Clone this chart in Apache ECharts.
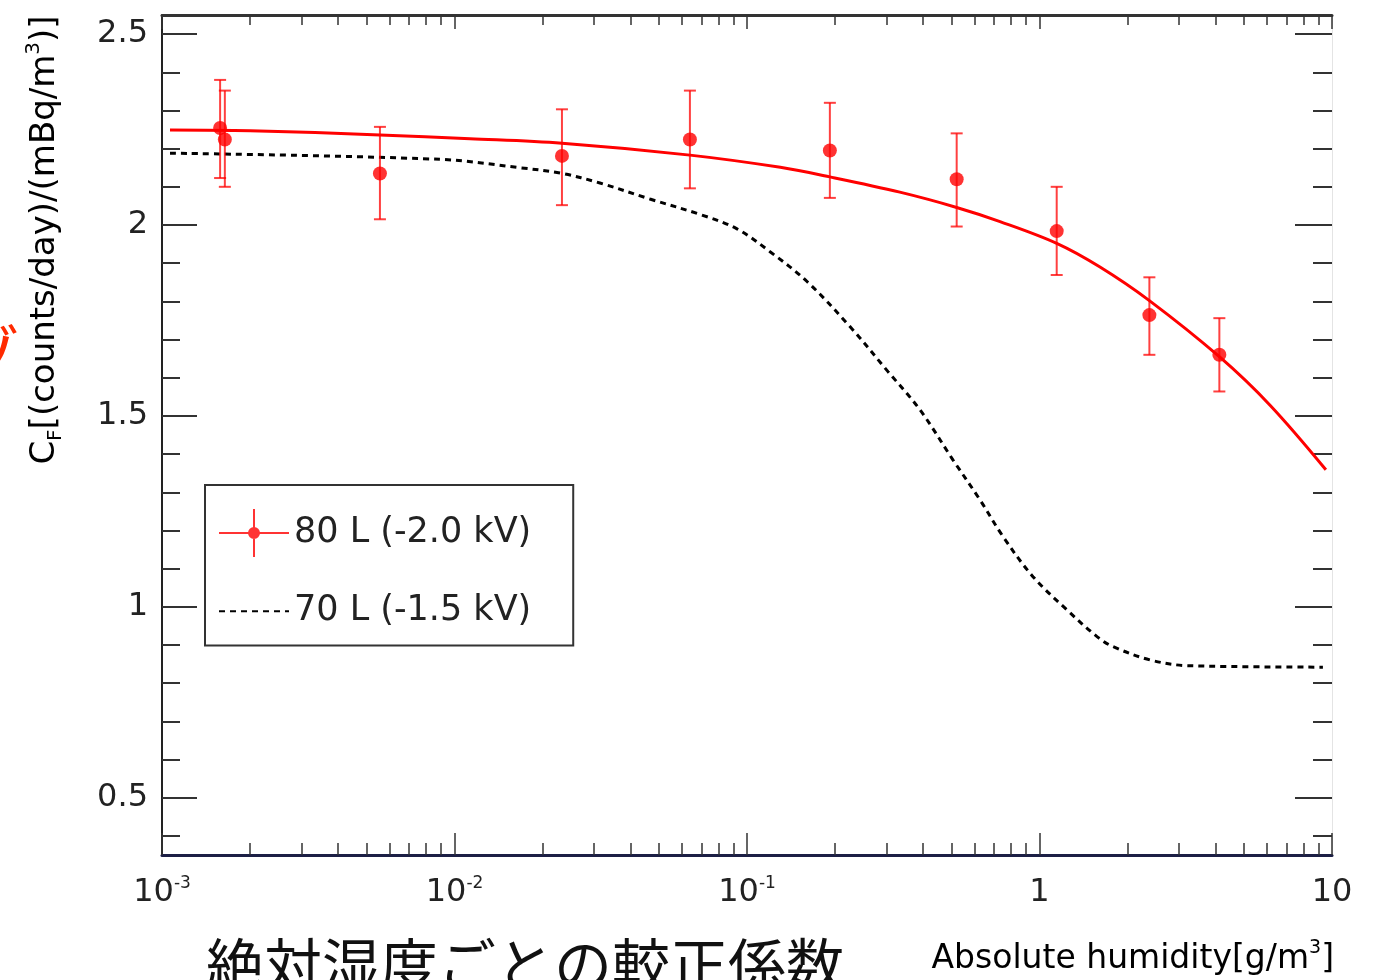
<!DOCTYPE html>
<html>
<head>
<meta charset="utf-8">
<script src="https://cdn.jsdelivr.net/npm/echarts@6/dist/echarts.min.js"></script>
<style>
html,body{margin:0;padding:0;background:#fff;}
#chart{width:1378px;height:980px;}
</style>
</head>
<body>
<div id="chart"></div>
<script>
// ---- data ----
const ptX    = [0.00158, 0.00164, 0.00556, 0.0233, 0.0638, 0.192, 0.521, 1.145, 2.375, 4.12];
const ptY    = [2.254, 2.224, 2.135, 2.181, 2.224, 2.195, 2.120, 1.984, 1.764, 1.660];
const ptLow  = [2.123, 2.100, 2.015, 2.052, 2.096, 2.071, 1.996, 1.869, 1.660, 1.564];
const ptHigh = [2.380, 2.352, 2.257, 2.303, 2.352, 2.320, 2.240, 2.100, 1.863, 1.756];

const fit80X = [0.001065, 0.0020, 0.00556, 0.0113, 0.0233, 0.0638, 0.130, 0.192, 0.333, 0.521, 0.733, 1.145, 1.61, 2.375, 4.12, 6.14, 9.53];
const fit80Y = [2.249, 2.247, 2.236, 2.226, 2.214, 2.183, 2.151, 2.126, 2.086, 2.046, 2.009, 1.952, 1.890, 1.802, 1.655, 1.528, 1.359];

const fit70X = [0.001065, 0.00892, 0.01675, 0.02333, 0.03141, 0.04656, 0.07015, 0.0924, 0.1199, 0.1604, 0.2249, 0.3034, 0.3902, 0.5058, 0.6261, 0.7505, 0.950, 1.241, 1.573, 1.782, 2.387, 3.193, 9.31];
const fit70Y = [2.188, 2.172, 2.150, 2.135, 2.110, 2.068, 2.026, 1.990, 1.930, 1.852, 1.734, 1.616, 1.516, 1.385, 1.280, 1.184, 1.079, 0.992, 0.922, 0.896, 0.861, 0.846, 0.842];

const xMajorTicks = [0.001, 0.01, 0.1, 1, 10];
const xMinorTicks = [0.002,0.003,0.004,0.005,0.006,0.007,0.008,0.009,
                     0.02,0.03,0.04,0.05,0.06,0.07,0.08,0.09,
                     0.2,0.3,0.4,0.5,0.6,0.7,0.8,0.9,
                     2,3,4,5,6,7,8,9];
const yMajorTicks = [0.5, 1, 1.5, 2, 2.5];
const yMinorTicks = [0.4,0.6,0.7,0.8,0.9,1.1,1.2,1.3,1.4,1.6,1.7,1.8,1.9,2.1,2.2,2.3,2.4];

const name80 = '80 L (-2.0 kV)';
const name70 = '70 L (-1.5 kV)';
const yTitle = '{n|C}{sub|F}{n|[(counts/day)/(mBq/m}{sup|3}{n|)]}';
const xTitle = '{n|Absolute humidity[g/m}{sup|3}{n|]}';
const jpTitle = '絶対湿度ごとの較正係数';
const jpFragment = 'ゾ';

// ---- chart ----
const FONT = 'DejaVu Sans';
const chart = echarts.init(document.getElementById('chart'));

const X_MIN = 0.001, X_MAX = 10, Y_MIN = 0.35, Y_MAX = 2.55;

function xAxisDef(pos, ticks, len, showLine, lineColor, lineWidth, labels) {
  return {
    type: 'log', logBase: 10, position: pos, min: X_MIN, max: X_MAX,
    axisLine: { show: showLine, lineStyle: { color: lineColor, width: lineWidth } },
    axisTick: { show: true, inside: true, length: len, customValues: ticks,
                lineStyle: { color: '#333', width: 1.5 } },
    axisLabel: labels ? {
      show: true, customValues: xMajorTicks, margin: 20,
      fontFamily: FONT, color: '#222',
      formatter: function (v) {
        const e = Math.round(Math.log10(v));
        if (e < 0) return '{b|10}{s|' + e + '}';
        return '{b|' + (e === 0 ? '1' : '10') + '}';
      },
      rich: {
        b: { fontSize: 32, lineHeight: 36, fontFamily: FONT, color: '#222' },
        s: { fontSize: 17, lineHeight: 17, verticalAlign: 'top', fontFamily: FONT, color: '#222' }
      }
    } : { show: false },
    splitLine: { show: false }, minorTick: { show: false }
  };
}
function yAxisDef(pos, ticks, len, showLine, lineColor, lineWidth, labels) {
  return {
    type: 'value', position: pos, min: Y_MIN, max: Y_MAX,
    axisLine: { show: showLine, lineStyle: { color: lineColor, width: lineWidth } },
    axisTick: { show: true, inside: true, length: len, customValues: ticks,
                lineStyle: { color: '#333', width: 2 } },
    axisLabel: labels ? { show: true, customValues: yMajorTicks, margin: 14,
      fontFamily: FONT, fontSize: 32, color: '#222' } : { show: false },
    splitLine: { show: false }
  };
}

const legendIcon = 'path://M0 23 L70 23 L70 25 L0 25 Z M34 0 L36 0 L36 48 L34 48 Z M29 24 A6 6 0 1 1 41 24 A6 6 0 1 1 29 24 Z';

const option = {
  backgroundColor: '#ffffff',
  animation: false,
  grid: { left: 162, right: 46, top: 15, bottom: 125, containLabel: false },
  xAxis: [
    xAxisDef('bottom', xMajorTicks, 22, true, '#1c1f45', 3, true),
    xAxisDef('bottom', xMinorTicks, 12, false, '#000', 1, false),
    xAxisDef('top', xMajorTicks, 14, true, '#333', 3, false),
    xAxisDef('top', xMinorTicks, 10, false, '#000', 1, false)
  ],
  yAxis: [
    yAxisDef('left', yMajorTicks, 35, true, '#222', 2, true),
    yAxisDef('left', yMinorTicks, 18, false, '#000', 1, false),
    yAxisDef('right', yMajorTicks, 37, true, '#e4e4e4', 1, false),
    yAxisDef('right', yMinorTicks, 19, false, '#000', 1, false)
  ],
  legend: {
    orient: 'vertical', left: 205, top: 485,
    padding: [24, 42, 15, 13],
    itemWidth: 70, itemHeight: 48, itemGap: 35,
    backgroundColor: '#fff', borderColor: '#333', borderWidth: 2,
    selectedMode: false,
    textStyle: { fontFamily: FONT, fontSize: 35, color: '#222' },
    data: [
      { name: name80, icon: legendIcon, itemStyle: { color: '#ff0000' } },
      { name: name70, itemStyle: { color: 'rgba(0,0,0,0)', opacity: 0, borderWidth: 0 } }
    ]
  },
  series: [
    {
      name: 'fit80', type: 'line', xAxisIndex: 0, yAxisIndex: 0,
      data: fit80X.map((x, i) => [x, fit80Y[i]]),
      smooth: 0.35, showSymbol: false, symbol: 'none',
      lineStyle: { color: '#ff0000', width: 3 }, z: 3
    },
    {
      name: name70, type: 'line', xAxisIndex: 0, yAxisIndex: 0,
      data: fit70X.map((x, i) => [x, fit70Y[i]]),
      smooth: 0.35, showSymbol: false, symbol: 'none',
      itemStyle: { color: '#000' },
      lineStyle: { color: '#000', width: 3, type: [6, 5] }, z: 2
    },
    {
      name: 'err80', type: 'custom', xAxisIndex: 0, yAxisIndex: 0,
      data: ptX.map((x, i) => [x, ptLow[i], ptHigh[i]]),
      renderItem: function (params, api) {
        const x = api.value(0);
        const lo = api.coord([x, api.value(1)]);
        const hi = api.coord([x, api.value(2)]);
        const cw = 6;
        const st = { stroke: 'rgba(255,0,0,0.75)', lineWidth: 2 };
        return { type: 'group', children: [
          { type: 'line', shape: { x1: lo[0], y1: lo[1], x2: hi[0], y2: hi[1] }, style: st },
          { type: 'line', shape: { x1: lo[0] - cw, y1: lo[1], x2: lo[0] + cw, y2: lo[1] }, style: st },
          { type: 'line', shape: { x1: hi[0] - cw, y1: hi[1], x2: hi[0] + cw, y2: hi[1] }, style: st }
        ]};
      },
      z: 4
    },
    {
      name: name80, type: 'scatter', xAxisIndex: 0, yAxisIndex: 0,
      data: ptX.map((x, i) => [x, ptY[i]]),
      symbol: 'circle', symbolSize: 14,
      itemStyle: { color: '#ff0000' }, z: 5
    }
  ],
  graphic: [
    { type: 'text', x: 45, y: 240, rotation: Math.PI / 2,
      style: { text: yTitle, align: 'center', verticalAlign: 'middle',
        rich: {
          n: { fontFamily: FONT, fontSize: 34, lineHeight: 42, color: '#222' },
          sub: { fontFamily: FONT, fontSize: 20, lineHeight: 20, verticalAlign: 'bottom', color: '#222' },
          sup: { fontFamily: FONT, fontSize: 20, lineHeight: 20, verticalAlign: 'top', color: '#222' }
        } } },
    { type: 'text', x: 1334, y: 959,
      style: { text: xTitle, align: 'right', verticalAlign: 'middle',
        rich: {
          n: { fontFamily: FONT, fontSize: 33, lineHeight: 40, color: '#222' },
          sup: { fontFamily: FONT, fontSize: 19, lineHeight: 19, verticalAlign: 'top', color: '#222' }
        } } },
    { type: 'text', x: 206, y: 936,
      style: { text: jpTitle, fontFamily: 'Noto Sans CJK JP', fontSize: 58,
        fill: '#111', align: 'left', verticalAlign: 'top' } },
    { type: 'text', x: -42, y: 322,
      style: { text: jpFragment, fontFamily: 'Noto Sans CJK JP', fontSize: 62,
        fill: '#ff2a00', align: 'left', verticalAlign: 'top' } }
  ]
};
chart.setOption(option);
</script>
</body>
</html>
